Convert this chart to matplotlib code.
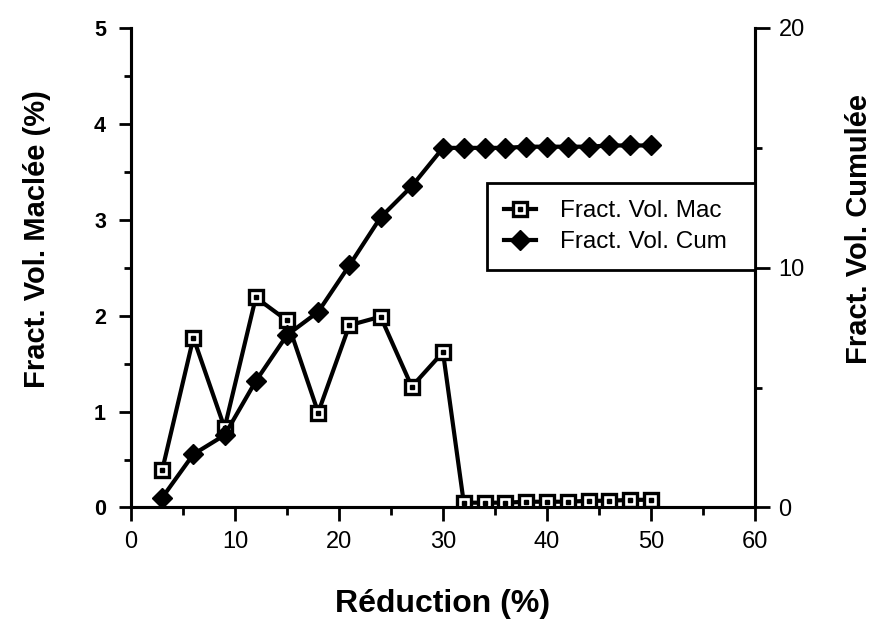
import matplotlib

matplotlib.use("Agg")

import matplotlib.pyplot as plt
from matplotlib.ticker import MultipleLocator

plt.rcParams["font.family"] = ["Liberation Sans", "DejaVu Sans"]

# Réduction (%) values shared by both series
reduction = [3, 6, 9, 12, 15, 18, 21, 24, 27, 30,
             32, 34, 36, 38, 40, 42, 44, 46, 48, 50]
# Fraction volumique maclée (%) - left axis
frac_mac = [0.39, 1.77, 0.83, 2.19, 1.95, 0.99, 1.90, 1.99, 1.26, 1.62,
            0.05, 0.05, 0.05, 0.06, 0.06, 0.06, 0.07, 0.07, 0.08, 0.08]
# Fraction volumique cumulée - right axis
frac_cum = [0.41, 2.22, 3.02, 5.27, 7.19, 8.16, 10.1, 12.1, 13.4, 15.0,
            15.0, 15.0, 15.0, 15.05, 15.05, 15.05, 15.05, 15.1, 15.1, 15.1]

label_mac = "Fract. Vol. Mac"
label_cum = "Fract. Vol. Cum"

fig = plt.figure(figsize=(8.84, 6.39), dpi=100)
ax = fig.add_axes([0.1482, 0.2058, 0.7058, 0.7504])
ax2 = ax.twinx()

lw_axis = 2.2
for a in (ax, ax2):
    a.spines["top"].set_visible(False)
    for s in ("left", "right", "bottom"):
        a.spines[s].set_linewidth(lw_axis)

# Mac series: open squares with a dot in the middle
sq, = ax.plot(reduction, frac_mac, color="black", lw=3, marker="s",
              markersize=10, markerfacecolor="white", markeredgecolor="black",
              markeredgewidth=2.4, zorder=3)
dot, = ax.plot(reduction, frac_mac, ls="none", marker="s", markersize=2.2,
               color="black", zorder=4)

# Cum series: filled diamonds on the right axis
dia, = ax2.plot(reduction, frac_cum, color="black", lw=3, marker="D",
                markersize=10, zorder=3)

ax.set_xlim(0, 60)
ax.set_ylim(0, 5)
ax2.set_ylim(0, 20)

ax.xaxis.set_major_locator(MultipleLocator(10))
ax.xaxis.set_minor_locator(MultipleLocator(5))
ax.yaxis.set_major_locator(MultipleLocator(1))
ax.yaxis.set_minor_locator(MultipleLocator(0.5))
ax2.yaxis.set_major_locator(MultipleLocator(10))
ax2.yaxis.set_minor_locator(MultipleLocator(5))

ax.tick_params(axis="x", which="major", direction="out", length=10, width=2,
               pad=7, labelsize=17)
ax.tick_params(axis="x", which="minor", direction="out", length=6, width=2)
ax.tick_params(axis="y", which="major", direction="out", length=9, width=2,
               pad=9, labelsize=15.5)
ax.tick_params(axis="y", which="minor", direction="out", length=5, width=2)
for t in ax.get_yticklabels():
    t.set_fontweight("bold")
ax2.tick_params(axis="y", which="major", direction="out", length=11, width=2,
                pad=6, labelsize=17)
ax2.tick_params(axis="y", which="minor", direction="out", length=5, width=2)

ax.set_xlabel("Réduction (%)", fontsize=23, fontweight="bold", labelpad=26)
ax.set_ylabel("Fract. Vol. Maclée (%)", fontsize=21, fontweight="bold")
ax.yaxis.set_label_coords(-0.129, 0.56)
ax2.set_ylabel("Fract. Vol. Cumulée", fontsize=21, fontweight="bold",
               rotation=90)
ax2.yaxis.set_label_coords(1.145, 0.58)

leg = ax2.legend([(sq, dot), dia], [label_mac, label_cum],
                 loc="upper left", bbox_to_anchor=(0.5705, 0.4953, 0.4295, 0.1814),
                 mode="expand", borderaxespad=0, fontsize=17.5, frameon=True,
                 fancybox=False, labelspacing=0.38, handlelength=1.3,
                 handletextpad=1.0, borderpad=0.7, edgecolor="black")
leg.get_frame().set_linewidth(2)
leg.get_frame().set_alpha(1)

fig.savefig("out.png", dpi=100)
